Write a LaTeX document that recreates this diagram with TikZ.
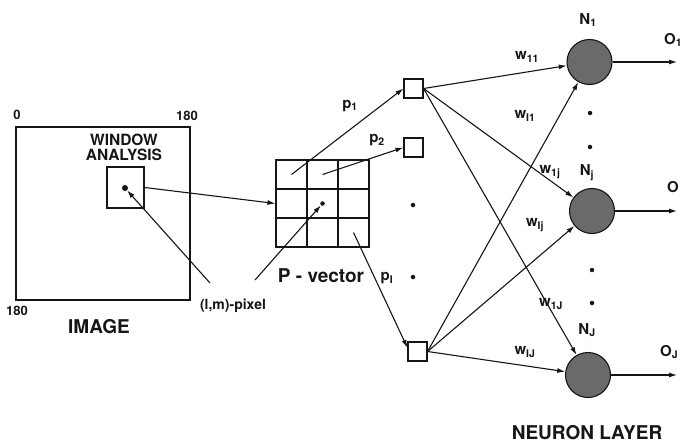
\documentclass[tikz,border=0pt]{standalone}
\usepackage{fontspec}
\setmainfont{TeX Gyre Heros}
\usetikzlibrary{arrows.meta}
\definecolor{bg}{HTML}{FFFFFF}
\definecolor{ink}{HTML}{161616}
\definecolor{soma}{HTML}{6A6A6A}

\begin{document}
\begin{tikzpicture}[x=1pt,y=-1pt,
  lbl/.style={inner sep=0pt,text=ink,font=\bfseries\fontsize{15}{15}\selectfont},
  small/.style={inner sep=0pt,text=ink,font=\bfseries\fontsize{13}{13}\selectfont},
  big/.style={inner sep=0pt,text=ink,font=\bfseries\fontsize{19}{19}\selectfont},
  box/.style={draw=ink,line width=1.3pt,inner sep=0pt},
  cellbox/.style={draw=ink,line width=1.1pt,minimum width=31pt,minimum height=29pt,inner sep=0pt},
  unit/.style={draw=ink,line width=1.1pt,fill=white,minimum size=19pt,inner sep=0pt},
  neuron/.style={circle,draw=ink,line width=1.1pt,fill=soma,minimum size=45pt,inner sep=0pt},
  spot/.style={circle,fill=ink,minimum size=4.5pt,inner sep=0pt},
  flow/.style={-{Latex[length=8pt,width=5pt]},line width=1.1pt,ink}]
  \fill[bg] (0,0) rectangle (682,447);
  \useasboundingbox (0,0) rectangle (682,447);

  % ===== image =====
  \node[box,minimum width=174pt,minimum height=173pt] (img) at (103,213.5) {};
  \node[small] (zero) at (17,115) {0};
  \node[small] (xmax) at (187,116) {180};
  \node[small] (ymax) at (17,311) {180};
  \node[big] (imglbl) at (99,327) {IMAGE};
  \node[lbl,align=center,font=\bfseries\fontsize{15.5}{15}\selectfont] (winlbl) at (124,147) {WINDOW\\ANALYSIS};
  \node[box,minimum width=37pt,minimum height=41pt] (win) at (125.5,187.5) {};
  \node[spot,minimum size=6pt] (pix) at (125,188) {};
  \node[lbl,font=\bfseries\fontsize{14}{14}\selectfont] (pixlbl) at (233,306) {(l,m)-pixel};
  \coordinate (pixa) at (210,283);
  \coordinate (pixb) at (255,280);

  % ===== window grid (P-vector) =====
  \foreach \r in {0,1,2}
    \foreach \c in {0,1,2}
      \node[cellbox] (c\r\c) at ({291.5+31*\c},{174.5+29*\r}) {};
  \node[spot] (mid) at (c11.center) {};
  \node[big] (plbl) at (321,276) {P - vector};

  \draw[flow] (win.east) -- (c10.west);
  \draw[flow] (pixa) -- (pix);
  \draw[flow] (pixb) -- (mid);

  % ===== input units =====
  \node[unit] (sq1) at (413.5,88.5) {};
  \node[unit] (sq2) at (413.5,147.5) {};
  \node[unit] (sq3) at (417.5,351.5) {};
  \node[spot] (d1) at (413,205) {};
  \node[spot] (d2) at (413,277) {};
  \node[lbl] (p1) at (350,106) {p\textsubscript{1}};
  \node[lbl] (p2) at (377,140) {p\textsubscript{2}};
  \node[lbl] (pI) at (387,278) {p\textsubscript{I}};

  \draw[flow] (c00.center) -- (sq1.west);
  \draw[flow] (c01.center) -- (sq2.west);
  \draw[flow] (c22.center) -- (sq3.160);

  % ===== neuron layer =====
  \node[neuron] (N1) at (589.5,62) {};
  \node[neuron] (Nj) at (592,211) {};
  \node[neuron] (NJ) at (588,375) {};
  \node[lbl] (N1lbl) at (588,20) {N\textsubscript{1}};
  \node[lbl] (Njlbl) at (587,173) {N\textsubscript{j}};
  \node[lbl] (NJlbl) at (587,330) {N\textsubscript{J}};
  \node[spot] (e1) at (590,113) {};
  \node[spot] (e2) at (590,147) {};
  \node[spot] (e3) at (592,270) {};
  \node[spot] (e4) at (592,303) {};
  \coordinate (o1) at (677,62);
  \coordinate (oj) at (677,211);
  \coordinate (oJ) at (677,375);
  \node[lbl,anchor=west] (O1lbl) at (664,40) {O\textsubscript{1}};
  \node[lbl,anchor=west] (Ojlbl) at (667,187) {O};
  \node[lbl,anchor=west] (OJlbl) at (660,352) {O\textsubscript{J}};
  \node[big] (layer) at (587,433) {NEURON LAYER};

  \draw[flow] (N1) -- (o1);
  \draw[flow] (Nj) -- (oj);
  \draw[flow] (NJ) -- (oJ);

  % weights
  \draw[flow] (sq1.east) -- (N1);
  \draw[flow] (sq1.east) -- (Nj);
  \draw[flow] (sq1.east) -- (NJ);
  \draw[flow] (sq3.east) -- (N1);
  \draw[flow] (sq3.east) -- (Nj);
  \draw[flow] (sq3.east) -- (NJ);
  \node[lbl] (w11) at (527,57) {w\textsubscript{11}};
  \node[lbl] (wI1) at (525,116) {w\textsubscript{I1}};
  \node[lbl] (w1j) at (550,172) {w\textsubscript{1j}};
  \node[lbl] (wIj) at (535,225) {w\textsubscript{Ij}};
  \node[lbl] (w1J) at (551,304) {w\textsubscript{1J}};
  \node[lbl] (wIJ) at (525,352) {w\textsubscript{IJ}};
\end{tikzpicture}
\end{document}
